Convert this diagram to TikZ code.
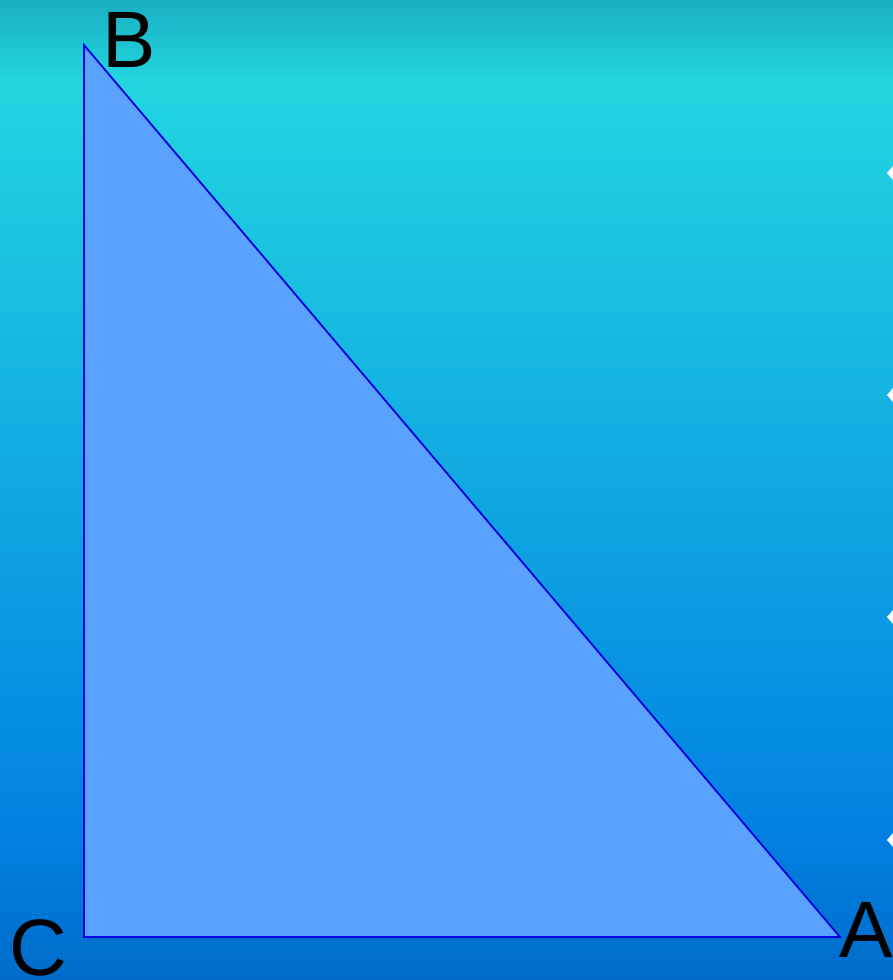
\documentclass[tikz,border=0pt]{standalone}
\usepackage{fontspec}
\setmainfont{Liberation Sans}
\definecolor{topA}{HTML}{1AAFC2}
\definecolor{topB}{HTML}{22D6E0}
\definecolor{midC}{HTML}{0282E2}
\definecolor{botC}{HTML}{006CCA}
\definecolor{trifill}{HTML}{5AA2FF}
\definecolor{triline}{HTML}{0000E0}
\tikzset{
  vlabel/.style={inner sep=0pt, font=\fontsize{80}{80}\selectfont, text=black},
  bullet/.style={fill=white, draw=none}
}
\begin{document}
\begin{tikzpicture}[x=1pt,y=-1pt]
\useasboundingbox (0,0) rectangle (893,980);
\foreach \i in {0,2,...,978}{
  \ifnum\i<80
    \pgfmathtruncatemacro\p{\i*1.25}\colorlet{bandc}{topB!\p!topA}
  \else
    \ifnum\i<820
      \pgfmathtruncatemacro\p{(\i-80)/7.4}\colorlet{bandc}{midC!\p!topB}
    \else
      \pgfmathtruncatemacro\p{(\i-820)/1.6}\colorlet{bandc}{botC!\p!midC}
    \fi
  \fi
  \fill[bandc] (0,\i) rectangle (893,\i+2.6);
}
\coordinate (C) at (84,937);
\coordinate (B) at (84,45);
\coordinate (A) at (840,937);
\filldraw[fill=trifill, draw=triline, line width=1.8pt, line join=miter] (C) -- (B) -- (A) -- cycle;
\node[vlabel] (labB) at (129,40) {B};
\node[vlabel] (labC) at (38,948) {C};
\node[vlabel] (labA) at (866,930) {A};
\foreach \y/\n in {173/d1,395/d2,617/d3,840/d4}{
  \coordinate (\n) at (893,\y);
  \fill[bullet] (\n) ++(-6,0) -- ++(6,-7) -- ++(6,7) -- ++(-6,7) -- cycle;
}
\end{tikzpicture}
\end{document}
